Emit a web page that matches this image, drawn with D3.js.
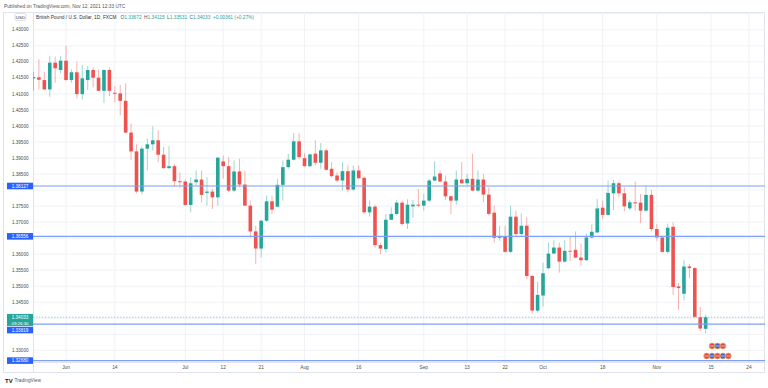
<!DOCTYPE html>
<html>
<head>
<meta charset="utf-8">
<script src="https://cdn.jsdelivr.net/npm/d3@7"></script>
<style>
  body { margin: 0; background: #fff; }
  svg text { font-family: "Liberation Sans", Arial, sans-serif; }
</style>
</head>
<body>
<div id="chart"></div>
<script>
// daily GBP/USD bars, 2021-05-24 .. 2021-11-12
const dates = [
  "2021-05-24","2021-05-25","2021-05-26","2021-05-27","2021-05-28","2021-05-31",
  "2021-06-01","2021-06-02","2021-06-03","2021-06-04","2021-06-07","2021-06-08","2021-06-09","2021-06-10","2021-06-11",
  "2021-06-14","2021-06-15","2021-06-16","2021-06-17","2021-06-18","2021-06-21","2021-06-22","2021-06-23","2021-06-24",
  "2021-06-25","2021-06-28","2021-06-29","2021-06-30",
  "2021-07-01","2021-07-02","2021-07-05","2021-07-06","2021-07-07","2021-07-08","2021-07-09","2021-07-12","2021-07-13",
  "2021-07-14","2021-07-15","2021-07-16","2021-07-19","2021-07-20","2021-07-21","2021-07-22","2021-07-23","2021-07-26",
  "2021-07-27","2021-07-28","2021-07-29","2021-07-30",
  "2021-08-02","2021-08-03","2021-08-04","2021-08-05","2021-08-06","2021-08-09","2021-08-10","2021-08-11","2021-08-12",
  "2021-08-13","2021-08-16","2021-08-17","2021-08-18","2021-08-19","2021-08-20","2021-08-23","2021-08-24","2021-08-25",
  "2021-08-26","2021-08-27","2021-08-30","2021-08-31",
  "2021-09-01","2021-09-02","2021-09-03","2021-09-06","2021-09-07","2021-09-08","2021-09-09","2021-09-10","2021-09-13",
  "2021-09-14","2021-09-15","2021-09-16","2021-09-17","2021-09-20","2021-09-21","2021-09-22","2021-09-23","2021-09-24",
  "2021-09-27","2021-09-28","2021-09-29","2021-09-30",
  "2021-10-01","2021-10-04","2021-10-05","2021-10-06","2021-10-07","2021-10-08","2021-10-11","2021-10-12","2021-10-13",
  "2021-10-14","2021-10-15","2021-10-18","2021-10-19","2021-10-20","2021-10-21","2021-10-22","2021-10-25","2021-10-26",
  "2021-10-27","2021-10-28","2021-10-29",
  "2021-11-01","2021-11-02","2021-11-03","2021-11-04","2021-11-05","2021-11-08","2021-11-09","2021-11-10","2021-11-11",
  "2021-11-12"
];

const opens = [
  1.41486, 1.41517, 1.41432, 1.41140, 1.41974, 1.41746, 1.42037, 1.41432, 1.41674, 1.40994,
  1.41432, 1.41746, 1.41505, 1.41097, 1.41746, 1.41034, 1.41016, 1.40784, 1.39793, 1.39207,
  1.37953, 1.39292, 1.39427, 1.39552, 1.39103, 1.38684, 1.38746, 1.38276, 1.38267, 1.37536,
  1.38245, 1.38329, 1.37912, 1.37953, 1.37774, 1.38894, 1.38746, 1.37984, 1.38580, 1.38173,
  1.37514, 1.36709, 1.36176, 1.37044, 1.37649, 1.37483, 1.38163, 1.38715, 1.38947, 1.39520,
  1.38997, 1.38746, 1.39135, 1.38853, 1.39238, 1.38665, 1.38455, 1.38298, 1.38589, 1.38016,
  1.38611, 1.38383, 1.37305, 1.37483, 1.36282, 1.36157, 1.37075, 1.37255, 1.37608, 1.36959,
  1.37492, 1.37545, 1.37514, 1.37671, 1.38298, 1.38518, 1.38267, 1.37805, 1.37671, 1.38329,
  1.38213, 1.38351, 1.37984, 1.38329, 1.37859, 1.37295, 1.36511, 1.36552, 1.36072, 1.37170,
  1.36627, 1.36887, 1.35320, 1.34240, 1.34710, 1.35562, 1.36019, 1.36207, 1.35768, 1.36104,
  1.36135, 1.35894, 1.35812, 1.36521, 1.36678, 1.37451, 1.37224, 1.37899, 1.38213, 1.37899,
  1.37430, 1.37618, 1.37608, 1.37358, 1.37850, 1.36784, 1.36521, 1.36072, 1.36855, 1.34993,
  1.34765, 1.35616, 1.35566, 1.34032, 1.33672
];
const highs = [
  1.41693, 1.42081, 1.41693, 1.42185, 1.42163, 1.42185, 1.42498, 1.41768, 1.42006, 1.41902,
  1.41871, 1.41830, 1.41768, 1.41768, 1.41830, 1.41244, 1.41275, 1.41329, 1.40076, 1.39427,
  1.39364, 1.39605, 1.39991, 1.39865, 1.39342, 1.39364, 1.38822, 1.38548, 1.38320, 1.38401,
  1.38611, 1.38611, 1.38401, 1.38036, 1.39029, 1.39081, 1.39029, 1.38925, 1.38978, 1.38611,
  1.37671, 1.36887, 1.37075, 1.37827, 1.37827, 1.38351, 1.38925, 1.39135, 1.39780, 1.39780,
  1.39153, 1.39135, 1.39552, 1.39467, 1.39291, 1.38872, 1.38558, 1.38872, 1.38768, 1.38768,
  1.38768, 1.38423, 1.37671, 1.37545, 1.36364, 1.37255, 1.37462, 1.37693, 1.37671, 1.37712,
  1.37693, 1.38036, 1.37881, 1.38351, 1.38894, 1.38611, 1.38455, 1.37827, 1.38611, 1.38872,
  1.38506, 1.39135, 1.38611, 1.38506, 1.38087, 1.37514, 1.36887, 1.36887, 1.37514, 1.37358,
  1.37273, 1.37149, 1.35351, 1.35141, 1.35737, 1.36364, 1.36449, 1.36364, 1.36449, 1.36543,
  1.36709, 1.36333, 1.36646, 1.36940, 1.37724, 1.37671, 1.38298, 1.38320, 1.38267, 1.38087,
  1.37693, 1.38267, 1.37881, 1.38141, 1.38006, 1.36940, 1.36574, 1.36950, 1.36993, 1.35100,
  1.35825, 1.35700, 1.35600, 1.34358, 1.34115
];
const lows = [
  1.41097, 1.41140, 1.41119, 1.40909, 1.41347, 1.41643, 1.41420, 1.41347, 1.40859, 1.40827,
  1.41119, 1.41203, 1.41090, 1.40721, 1.40931, 1.40743, 1.40335, 1.39785, 1.38946, 1.37899,
  1.37859, 1.38611, 1.39238, 1.38872, 1.38665, 1.38665, 1.38110, 1.38079, 1.37514, 1.37305,
  1.38141, 1.37618, 1.37514, 1.37411, 1.37514, 1.38351, 1.37931, 1.37931, 1.38087, 1.37505,
  1.36521, 1.35687, 1.35894, 1.37013, 1.37255, 1.37461, 1.37671, 1.38665, 1.38925, 1.38978,
  1.38737, 1.38715, 1.38768, 1.38665, 1.38611, 1.38401, 1.38245, 1.37984, 1.37931, 1.37984,
  1.38351, 1.37255, 1.37170, 1.36207, 1.36001, 1.36050, 1.37066, 1.37201, 1.36887, 1.36784,
  1.37138, 1.37467, 1.37358, 1.37618, 1.38276, 1.38245, 1.37693, 1.37255, 1.37545, 1.38194,
  1.38141, 1.37962, 1.37931, 1.37618, 1.37201, 1.36364, 1.36417, 1.36050, 1.36040, 1.36574,
  1.36574, 1.35216, 1.34140, 1.34178, 1.34365, 1.35530, 1.36001, 1.35424, 1.35737, 1.35790,
  1.35875, 1.35655, 1.35790, 1.36489, 1.36659, 1.37097, 1.37201, 1.37379, 1.37774, 1.37336,
  1.37379, 1.37358, 1.36966, 1.37327, 1.36709, 1.36417, 1.36050, 1.36025, 1.34733, 1.34263,
  1.34555, 1.35256, 1.34015, 1.33598, 1.33531
];
const closes = [
  1.41527, 1.41442, 1.41140, 1.41974, 1.41799, 1.42037, 1.41432, 1.41674, 1.40994, 1.41486,
  1.41746, 1.41505, 1.41097, 1.41746, 1.41097, 1.41003, 1.40784, 1.39793, 1.39207, 1.37953,
  1.39292, 1.39427, 1.39552, 1.39103, 1.38684, 1.38746, 1.38276, 1.38245, 1.37536, 1.38213,
  1.38329, 1.37850, 1.37953, 1.37774, 1.39010, 1.38746, 1.37984, 1.38580, 1.38173, 1.37514,
  1.36709, 1.36176, 1.37044, 1.37649, 1.37389, 1.38163, 1.38715, 1.38947, 1.39520, 1.39028,
  1.38746, 1.39113, 1.38853, 1.39238, 1.38633, 1.38433, 1.38298, 1.38589, 1.38016, 1.38611,
  1.38370, 1.37305, 1.37483, 1.36282, 1.36176, 1.37075, 1.37255, 1.37608, 1.36940, 1.37545,
  1.37545, 1.37514, 1.37671, 1.38298, 1.38423, 1.38267, 1.37805, 1.37671, 1.38329, 1.38213,
  1.38351, 1.37984, 1.38329, 1.37859, 1.37255, 1.36511, 1.36552, 1.36072, 1.37170, 1.36627,
  1.36887, 1.35320, 1.34240, 1.34730, 1.35405, 1.36019, 1.36207, 1.35768, 1.36104, 1.36082,
  1.35894, 1.35812, 1.36521, 1.36700, 1.37427, 1.37224, 1.37912, 1.38213, 1.37899, 1.37492,
  1.37618, 1.37586, 1.37358, 1.37850, 1.36784, 1.36521, 1.36072, 1.36825, 1.34975, 1.34943,
  1.35616, 1.35566, 1.34045, 1.33680, 1.34033
];

// axes
const priceTicks = [1.435, 1.430, 1.425, 1.420, 1.415, 1.410, 1.405, 1.400, 1.395, 1.390, 1.385,
  1.380, 1.375, 1.370, 1.365, 1.360, 1.355, 1.350, 1.345, 1.340, 1.335, 1.330];
const timeTickDates = ["2021-06-01","2021-06-14","2021-07-01","2021-07-12","2021-07-21","2021-08-02","2021-08-16",
  "2021-09-01","2021-09-13","2021-09-22","2021-10-01","2021-10-18","2021-11-01","2021-11-15","2021-11-24"];
const timeTickLabels = ["Jun","14","Jul","12","21","Aug","16","Sep","13","22","Oct","18","Nov","15","24"];

// drawn horizontal lines and last price
const levels = [1.38127, 1.36556, 1.33819, 1.32680];
const countdown = "09:26:30";
const eventsRow1 = ["2021-11-15","2021-11-16","2021-11-17"];
const eventsRow2 = ["2021-11-12","2021-11-15","2021-11-16","2021-11-17","2021-11-18"];

const upColor = "#26a69a", downColor = "#ef5350";
const W = 768, H = 388;
const plot = { left: 33, right: 765, top: 12, bottom: 362.5 };
const frame = { left: 3, right: 765, top: 12, bottom: 373 };

// bar index = number of weekdays since the first bar
const t0 = new Date(dates[0] + "T00:00:00Z");
function barIndex(s) {
  const t = new Date(s + "T00:00:00Z");
  let n = 0;
  for (let d = new Date(t0); d < t; d.setUTCDate(d.getUTCDate() + 1)) {
    const wd = d.getUTCDay();
    if (wd !== 0 && wd !== 6) n++;
  }
  return n;
}

const candles = dates.map((d, i) => ({
  idx: barIndex(d), o: opens[i], h: highs[i], l: lows[i], c: closes[i]
}));

const x = d3.scaleLinear().domain([0, 132]).range([33.5, 749]);
const y = d3.scaleLinear().domain([1.3268, 1.43]).range([360.6, 29.8]);

const svg = d3.select("#chart").append("svg")
  .attr("width", W).attr("height", H)
  .style("display", "block");

svg.append("defs").append("clipPath").attr("id", "plotclip")
  .append("rect")
  .attr("x", plot.left).attr("y", plot.top)
  .attr("width", plot.right - plot.left).attr("height", plot.bottom - plot.top);

// header
svg.append("text")
  .attr("x", 4).attr("y", 6.5).attr("dy", "0.35em")
  .attr("fill", "#555").style("font-size", "4.8px")
  .text("Published on TradingView.com, Nov 12, 2021 12:33 UTC");

// frame
svg.append("rect")
  .attr("x", frame.left + 0.5).attr("y", frame.top + 0.5)
  .attr("width", frame.right - frame.left - 1).attr("height", frame.bottom - frame.top - 1)
  .attr("fill", "none").attr("stroke", "#e0e3eb");

// grid
const grid = svg.append("g").attr("clip-path", "url(#plotclip)");
grid.selectAll("line.h").data(priceTicks).join("line")
  .attr("class", "h")
  .attr("x1", plot.left).attr("x2", plot.right)
  .attr("y1", d => y(d)).attr("y2", d => y(d))
  .attr("stroke", "#f0f2f6").attr("stroke-width", 1);
grid.selectAll("line.v").data(timeTickDates).join("line")
  .attr("class", "v")
  .attr("x1", d => x(barIndex(d))).attr("x2", d => x(barIndex(d)))
  .attr("y1", plot.top).attr("y2", plot.bottom)
  .attr("stroke", "#f0f2f6").attr("stroke-width", 1);

// axis borders
svg.append("line")
  .attr("x1", plot.left + 0.5).attr("x2", plot.left + 0.5)
  .attr("y1", frame.top).attr("y2", frame.bottom)
  .attr("stroke", "#e0e3eb");
svg.append("line")
  .attr("x1", plot.left).attr("x2", plot.right)
  .attr("y1", plot.bottom).attr("y2", plot.bottom)
  .attr("stroke", "#e0e3eb");

// candles
const cg = svg.append("g").attr("clip-path", "url(#plotclip)");
const bodyW = 3.6;
cg.selectAll("line.wick").data(candles).join("line")
  .attr("class", "wick")
  .attr("x1", d => x(d.idx)).attr("x2", d => x(d.idx))
  .attr("y1", d => y(d.h)).attr("y2", d => y(d.l))
  .attr("stroke", d => d.c >= d.o ? upColor : downColor)
  .attr("stroke-opacity", 0.45)
  .attr("stroke-width", 1);
cg.selectAll("rect.body").data(candles).join("rect")
  .attr("class", "body")
  .attr("x", d => x(d.idx) - bodyW / 2)
  .attr("width", bodyW)
  .attr("y", d => y(Math.max(d.o, d.c)))
  .attr("height", d => Math.max(0.8, Math.abs(y(d.o) - y(d.c))))
  .attr("fill", d => d.c >= d.o ? upColor : downColor);

// horizontal level lines
const last = candles[candles.length - 1];
cg.selectAll("line.level").data(levels).join("line")
  .attr("class", "level")
  .attr("x1", plot.left).attr("x2", plot.right)
  .attr("y1", d => y(d)).attr("y2", d => y(d))
  .attr("stroke", "#7f9ef5").attr("stroke-width", 1.2);
cg.append("line")
  .attr("x1", plot.left).attr("x2", plot.right)
  .attr("y1", y(last.c)).attr("y2", y(last.c))
  .attr("stroke", upColor).attr("stroke-opacity", 0.45)
  .attr("stroke-dasharray", "1.5,1.5").attr("stroke-width", 1);

// event markers
const ev = cg.append("g");
[[eventsRow1, 346], [eventsRow2, 356]].forEach(([row, cy]) => {
  row.forEach((d, k) => {
    const cx = x(barIndex(d)) + 1;
    ev.append("circle").attr("cx", cx).attr("cy", cy).attr("r", 2.9)
      .attr("fill", k % 2 ? "#3f63c9" : "#d9465a")
      .attr("stroke", "#f5a742").attr("stroke-width", 0.8);
    ev.append("line").attr("x1", cx - 2).attr("x2", cx + 2).attr("y1", cy).attr("y2", cy)
      .attr("stroke", "#fff").attr("stroke-width", 0.6);
  });
});

// label boxes on the price axis (last price, then the drawn levels)
const lastTop = y(last.c) - 3.3, lastBottom = y(last.c) + 8.7;
const lh = 6.6;
const levelBoxes = levels.map(p => {
  let cy = y(p);
  if (cy + lh / 2 > lastTop && cy - lh / 2 < lastBottom) cy = lastBottom + 0.8 + lh / 2;
  return { p, cy, top: cy - lh / 2, bottom: cy + lh / 2 };
});
const busy = [{ top: lastTop, bottom: lastBottom }, { top: 12, bottom: 21.5 }].concat(levelBoxes);

// price axis labels, hidden where a label box covers them
svg.append("g").selectAll("text")
  .data(priceTicks.filter(t => !busy.some(b => y(t) + 2 > b.top && y(t) - 2 < b.bottom)))
  .join("text")
  .attr("x", 28.5).attr("y", d => y(d)).attr("dy", "0.35em")
  .attr("text-anchor", "end")
  .attr("fill", "#4c4c4c").style("font-size", "4.6px")
  .text(d => d3.format(".5f")(d));

const lbl = svg.append("g");
lbl.append("rect")
  .attr("x", 7).attr("y", lastTop).attr("width", 26).attr("height", lastBottom - lastTop)
  .attr("fill", upColor);
lbl.append("text").attr("x", 20).attr("y", y(last.c)).attr("dy", "0.35em")
  .attr("text-anchor", "middle").attr("fill", "#fff").style("font-size", "4.6px")
  .text(d3.format(".5f")(last.c));
lbl.append("text").attr("x", 20).attr("y", y(last.c) + 5.9).attr("dy", "0.35em")
  .attr("text-anchor", "middle").attr("fill", "#fff").style("font-size", "4.4px")
  .text(countdown);

levelBoxes.forEach(b => {
  const g = svg.append("g");
  g.append("rect").attr("x", 7).attr("y", b.top).attr("width", 26).attr("height", lh)
    .attr("fill", "#2962ff");
  g.append("text").attr("x", 20).attr("y", b.cy).attr("dy", "0.35em")
    .attr("text-anchor", "middle").attr("fill", "#fff").style("font-size", "4.6px")
    .text(d3.format(".5f")(b.p));
});

// symbol badge + legend
svg.append("rect")
  .attr("x", 15).attr("y", 13.5).attr("width", 11).attr("height", 7).attr("rx", 1.5)
  .attr("fill", "#fff").attr("stroke", "#c8cbd2").attr("stroke-width", 0.6);
svg.append("text").attr("x", 20.5).attr("y", 17).attr("dy", "0.35em")
  .attr("text-anchor", "middle").attr("fill", "#333").style("font-size", "4.4px")
  .text("USD");

const chg = last.c - last.o;
const legend = svg.append("text").attr("x", 36).attr("y", 17).attr("dy", "0.35em")
  .style("font-size", "4.8px");
legend.append("tspan").attr("fill", "#333").text("British Pound / U.S. Dollar, 1D, FXCM");
[["O", last.o], ["H", last.h], ["L", last.l], ["C", last.c]].forEach(([k, v], i) => {
  legend.append("tspan").attr("dx", i === 0 ? 4 : 2.5).attr("fill", "#555").text(k);
  legend.append("tspan").attr("fill", upColor).text(d3.format(".5f")(v));
});
legend.append("tspan").attr("dx", 2.5).attr("fill", upColor)
  .text(`+${d3.format(".5f")(chg)} (+${d3.format(".2f")(chg / last.o * 100)}%)`);

// time axis labels
svg.append("g").selectAll("text").data(timeTickDates).join("text")
  .attr("x", d => x(barIndex(d))).attr("y", 367.5).attr("dy", "0.35em")
  .attr("text-anchor", "middle")
  .attr("fill", "#4c4c4c").style("font-size", "4.8px")
  .text((d, i) => timeTickLabels[i]);

// footer logo
svg.append("text").attr("x", 5).attr("y", 380.5).attr("dy", "0.35em")
  .attr("fill", "#131722").style("font-size", "6px").style("font-weight", "bold")
  .text("TV");
svg.append("text").attr("x", 14.5).attr("y", 380.5).attr("dy", "0.35em")
  .attr("fill", "#555").style("font-size", "4.8px")
  .text("TradingView");
</script>
</body>
</html>
